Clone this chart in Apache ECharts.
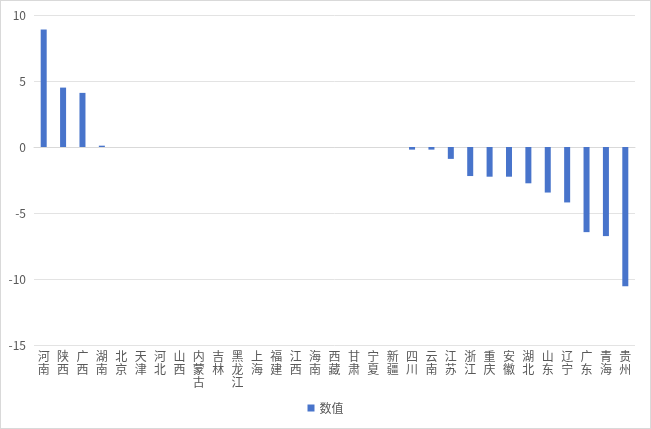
<!DOCTYPE html>
<html><head><meta charset="utf-8">
<script src="https://cdn.jsdelivr.net/npm/echarts@6/dist/echarts.min.js"></script>
<style>html,body{margin:0;padding:0;background:#fff}#c{width:649px;height:427px;border:1px solid #d9d9d9}</style>
</head><body><div id="c"></div>
<script>
const categories = ['河南','陕西','广西','湖南','北京','天津','河北','山西','内蒙古','吉林','黑龙江','上海','福建','江西','海南','西藏','甘肃','宁夏','新疆','四川','云南','江苏','浙江','重庆','安徽','湖北','山东','辽宁','广东','青海','贵州'];
const values = [8.9,4.5,4.1,0.1,0,0,0,0,0,0,0,0,0,0,0,0,0,0,0,-0.2,-0.2,-0.9,-2.2,-2.25,-2.25,-2.75,-3.45,-4.2,-6.45,-6.75,-10.55];
const yTicks = {min:-15, max:10, interval:5};
const seriesName = '数值';

const font = '"Noto Sans CJK SC","Microsoft YaHei",sans-serif';
const chart = echarts.init(document.getElementById('c'));
chart.setOption({
  animation:false,
  textStyle:{fontFamily:font},
  grid:{left:33,right:15,top:14,bottom:83,containLabel:false},
  legend:{bottom:9,left:'center',icon:'rect',itemWidth:7,itemHeight:7,itemGap:6,
    textStyle:{color:'#595959',fontSize:12,fontFamily:font},data:[seriesName]},
  xAxis:[{type:'category',data:categories,position:'bottom',
    axisLine:{show:false,onZero:false},axisTick:{show:false},
    axisLabel:{interval:0,color:'#595959',fontSize:12,lineHeight:13,margin:5,fontFamily:font,
      formatter:v=>v.split('').join('\n')}},
   {type:'category',data:categories,position:'top',
    axisLine:{show:true,onZero:true,lineStyle:{color:'#d9d9d9',width:1}},axisTick:{show:false},axisLabel:{show:false}}],
  yAxis:{type:'value',min:yTicks.min,max:yTicks.max,interval:yTicks.interval,
    axisLine:{show:false},axisTick:{show:false},
    axisLabel:{color:'#595959',fontSize:12,margin:8,fontFamily:font},
    splitLine:{lineStyle:{color:'#e3e3e3',width:1}}},
  series:[{name:seriesName,type:'bar',data:values,barWidth:'31%',
    itemStyle:{color:'#4874cb'}}]
});
</script></body></html>
